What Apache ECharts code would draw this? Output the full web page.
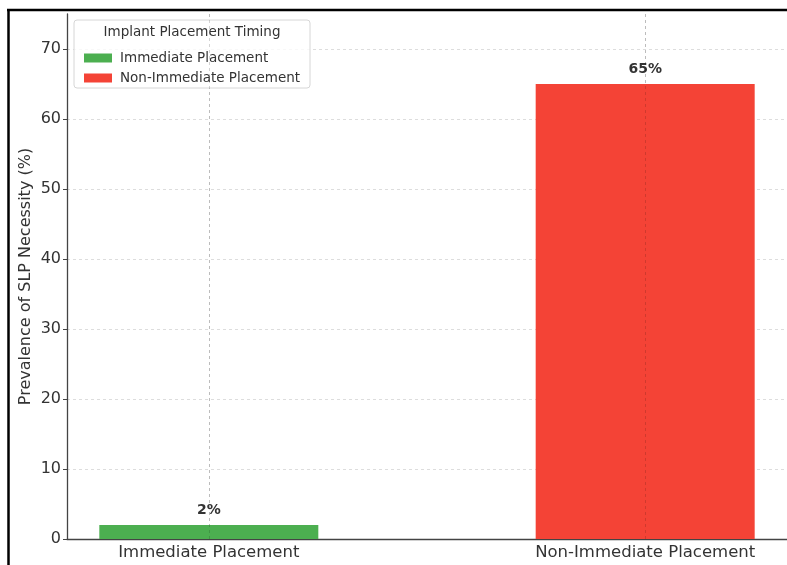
<!DOCTYPE html>
<html>
<head>
<meta charset="utf-8">
<script src="https://cdn.jsdelivr.net/npm/echarts@6/dist/echarts.min.js"></script>
<style>
html,body{margin:0;padding:0;background:#fff;}
#chart{width:787px;height:565px;}
</style>
</head>
<body>
<div id="chart"></div>
<script>
const categories = ['Immediate Placement', 'Non-Immediate Placement'];
const seriesNames = ['Immediate Placement', 'Non-Immediate Placement'];
const values = [2, 65];
const yTicks = [0, 10, 20, 30, 40, 50, 60, 70];
const colors = ['#4CAF50', '#F44336'];

const chart = echarts.init(document.getElementById('chart'));
const FONT = 'DejaVu Sans';

const series = seriesNames.map((name, i) => ({
  name: name,
  type: 'bar',
  data: [[i, values[i]]],
  barWidth: 219,
  barGap: '-100%',
  itemStyle: { color: colors[i] },
  label: {
    show: true,
    position: 'top',
    distance: 8,
    formatter: p => p.value[1] + '%',
    fontFamily: FONT,
    fontWeight: 'bold',
    fontSize: 14,
    color: '#333'
  },
  markLine: {
    silent: true,
    symbol: 'none',
    label: { show: false },
    lineStyle: { type: [3, 3], color: 'rgba(0,0,0,0.15)', width: 1 },
    data: [{ xAxis: i }]
  }
}));

chart.setOption({
  backgroundColor: '#fff',
  animation: false,
  grid: { left: 67, top: 14, width: 722, height: 525, containLabel: false },
  legend: {
    z: 50,
    orient: 'vertical',
    left: 79,
    top: 46,
    itemWidth: 28,
    itemHeight: 9,
    itemGap: 6,
    icon: 'rect',
    data: seriesNames,
    textStyle: { fontFamily: FONT, fontSize: 13.5, color: '#333', lineHeight: 14, padding: [0, 0, 0, 3] }
  },
  xAxis: {
    type: 'value',
    min: -0.325,
    max: 1.325,
    axisLine: { show: true, lineStyle: { color: '#444', width: 1.3 } },
    axisTick: { show: true, customValues: [0, 1], length: 4, inside: true, lineStyle: { color: '#444' } },
    axisLabel: {
      customValues: [0, 1],
      formatter: v => categories[Math.round(v)],
      fontFamily: FONT, fontSize: 16.5, color: '#333', margin: 5
    },
    splitLine: { show: true, lineStyle: { type: [3, 3], color: '#ddd', width: 1 } }
  },
  yAxis: {
    type: 'value',
    min: 0,
    max: 75,
    name: 'Prevalence of SLP Necessity (%)',
    nameLocation: 'middle',
    nameGap: 33,
    nameMoveOverlap: false,
    nameRotate: 90,
    nameTextStyle: { fontFamily: FONT, fontSize: 16, color: '#333' },
    axisLine: { show: true, onZero: false, lineStyle: { color: '#444', width: 1.3 } },
    axisTick: { show: true, customValues: yTicks, length: 4, lineStyle: { color: '#444' } },
    axisLabel: {
      customValues: yTicks,
      fontFamily: FONT, fontSize: 16, color: '#333', margin: 6
    },
    splitLine: { show: true, lineStyle: { type: [3, 3], color: '#ddd', width: 1 } }
  },
  graphic: [
    {
      type: 'rect', z: 1,
      shape: { x: 74, y: 20, width: 236, height: 68, r: 3 },
      style: { fill: 'rgba(255,255,255,0.8)', stroke: '#d6d6d6', lineWidth: 1 }
    },
    {
      type: 'text', z: 2,
      x: 192, y: 32,
      style: { text: 'Implant Placement Timing', fontFamily: FONT, fontSize: 13.5, fill: '#333', align: 'center', verticalAlign: 'middle' }
    },
    {
      type: 'line', z: 20,
      shape: { x1: 8.5, y1: 9, x2: 8.5, y2: 565 },
      style: { stroke: '#000', lineWidth: 2.5 }
    },
    {
      type: 'line', z: 20,
      shape: { x1: 7, y1: 10, x2: 787, y2: 10 },
      style: { stroke: '#000', lineWidth: 2.5 }
    }
  ],
  series: series
});
</script>
</body>
</html>
